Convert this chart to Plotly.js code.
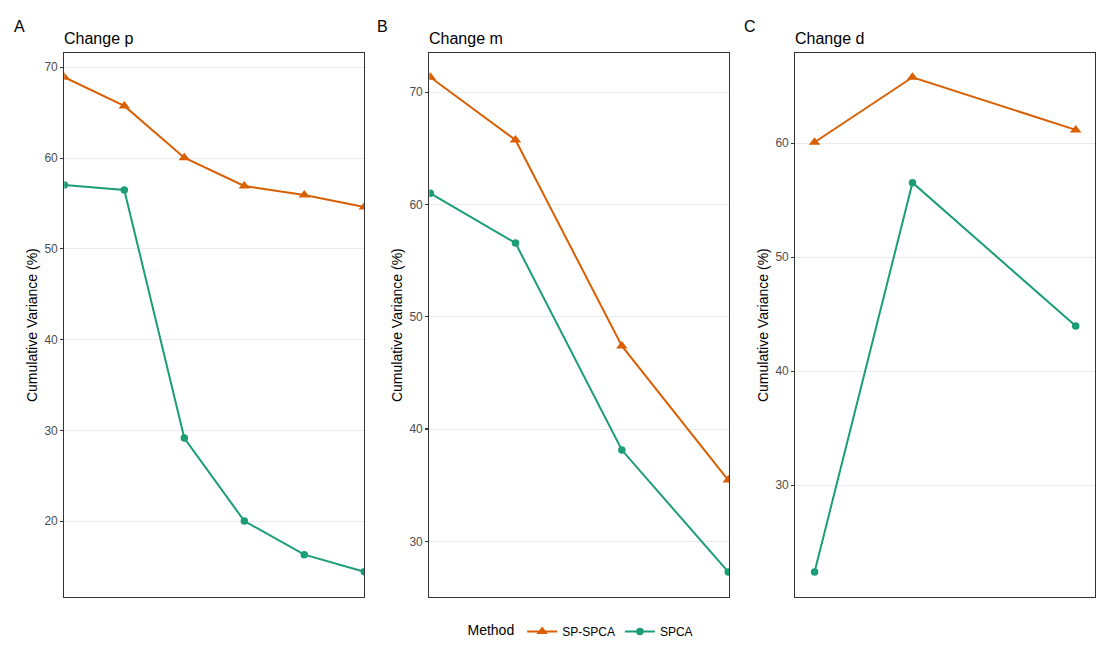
<!DOCTYPE html>
<html>
<head>
<meta charset="utf-8">
<script src="https://cdn.plot.ly/plotly-3.0.1.min.js"></script>
<style>
html,body{margin:0;padding:0;background:#fff;}
#chart{width:1110px;height:664px;}
</style>
</head>
<body>
<div id="chart"></div>
<script>
// ---- data ----
const methods = ["SP-SPCA", "SPCA"];
const panelLabels = ["A", "B", "C"];
const panelTitles = ["Change p", "Change m", "Change d"];

const pValues = [1, 2, 3, 4, 5, 6];
const pSPSPCA = [68.9, 65.74, 60.04, 56.93, 55.94, 54.62];
const pSPCA   = [57.04, 56.49, 29.17, 20.03, 16.32, 14.45];

const mValues = [12, 20, 30, 40];
const mSPSPCA = [71.34, 65.75, 47.40, 35.46];
const mSPCA   = [61.0, 56.57, 38.13, 27.27];

const dValues = [20, 50, 100];
const dSPSPCA = [60.09, 65.79, 61.17];
const dSPCA   = [22.39, 56.54, 43.97];

const yTicksA = [20, 30, 40, 50, 60, 70];
const yTicksB = [30, 40, 50, 60, 70];
const yTicksC = [30, 40, 50, 60];

// ---- styling ----
const W = 1110, H = 664;
const colors = {"SP-SPCA": "#D95F02", "SPCA": "#1B9E77"};
const symbols = {"SP-SPCA": "triangle-up", "SPCA": "circle"};
const sizes = {"SP-SPCA": 10, "SPCA": 7.5};
const FONT = "Liberation Sans, Arial, sans-serif";

const panels = [
  {x: pValues, s: [pSPSPCA, pSPCA], xr: [1, 6], yr: [11.66, 71.54], ticks: yTicksA, px: [64.3, 364.3]},
  {x: mValues, s: [mSPSPCA, mSPCA], xr: [11.9, 40.1], yr: [25.04, 73.47], ticks: yTicksB, px: [429.3, 729.3]},
  {x: dValues, s: [dSPSPCA, dSPCA], xr: [14.1, 106.0], yr: [20.2, 67.89], ticks: yTicksC, px: [795.3, 1095.3]}
];
const yTop = 53.3, yBot = 597;

const traces = [];
const layout = {
  width: W, height: H,
  margin: {l: 0, r: 0, t: 0, b: 0},
  paper_bgcolor: "#fff", plot_bgcolor: "#fff",
  font: {family: FONT, color: "#000"},
  showlegend: true,
  legend: {
    orientation: "h", x: 582 / W, xanchor: "center", y: 1 - 631.5 / H, yanchor: "middle",
    title: {text: "Method", side: "left", font: {size: 14, color: "#000"}},
    font: {size: 12, color: "#000"}, itemwidth: 30, tracegroupgap: 0
  },
  annotations: [],
  shapes: []
};

panels.forEach((p, i) => {
  const xa = i === 0 ? "x" : "x" + (i + 1);
  const ya = i === 0 ? "y" : "y" + (i + 1);
  methods.forEach((m, k) => {
    traces.push({
      type: "scatter", mode: "lines+markers",
      x: p.x, y: p.s[k], xaxis: xa, yaxis: ya,
      name: m, legendgroup: m, showlegend: i === 0,
      line: {color: colors[m], width: 2},
      marker: {color: colors[m], symbol: symbols[m], size: sizes[m]},
      hoverinfo: "skip"
    });
  });
  const xKey = i === 0 ? "xaxis" : "xaxis" + (i + 1);
  const yKey = i === 0 ? "yaxis" : "yaxis" + (i + 1);
  layout[xKey] = {
    domain: [p.px[0] / W, p.px[1] / W], range: p.xr, anchor: ya,
    showgrid: false, zeroline: false, showticklabels: false, ticks: "",
    showline: true, mirror: true, linecolor: "#333333", linewidth: 1.1
  };
  layout[yKey] = {
    domain: [1 - yBot / H, 1 - yTop / H], range: p.yr, anchor: xa,
    tickvals: p.ticks, ticktext: p.ticks.map(String),
    ticks: "outside", ticklen: 3, tickwidth: 1.1, tickcolor: "#333333",
    tickfont: {size: 12, color: "#4D4D4D", family: FONT},
    showgrid: true, gridcolor: "#EBEBEB", gridwidth: 1, zeroline: false,
    showline: true, mirror: true, linecolor: "#333333", linewidth: 1.1,
    title: {text: "Cumulative Variance (%)", font: {size: 14, color: "#000", family: FONT}, standoff: 3}
  };
  layout.annotations.push({
    text: panelTitles[i], xref: "paper", yref: "paper",
    x: (p.px[0] - 2) / W, y: 1 - 39 / H, xanchor: "left", yanchor: "middle",
    showarrow: false, font: {size: 16, color: "#000", family: FONT}
  });
  layout.annotations.push({
    text: panelLabels[i], xref: "paper", yref: "paper",
    x: [19, 383, 750][i] / W, y: 1 - 26 / H, xanchor: "center", yanchor: "middle",
    showarrow: false, font: {size: 16, color: "#000", family: FONT}
  });
});

Plotly.newPlot("chart", traces, layout, {displayModeBar: false, staticPlot: true});
</script>
</body>
</html>
